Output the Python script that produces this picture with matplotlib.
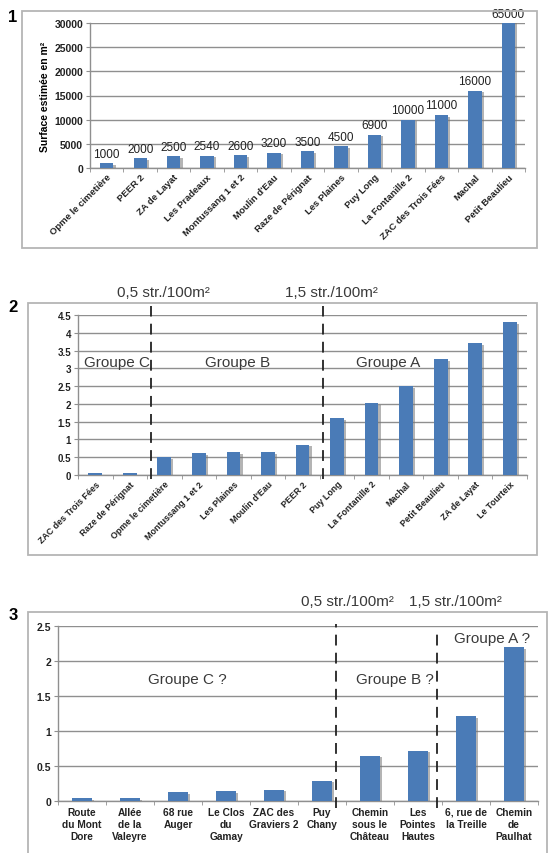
import numpy as np
import matplotlib.pyplot as plt
import matplotlib.patheffects as pe
from matplotlib.patches import Rectangle

plt.rcParams['font.family'] = ['Liberation Sans', 'DejaVu Sans']

# --- données graphique 1 : surface estimée
sites1 = ["Opme le cimetière", "PEER 2", "ZA de Layat", "Les Pradeaux", "Montussang 1 et 2",
          "Moulin d'Eau", "Raze de Pérignat", "Les Plaines", "Puy Long", "La Fontanille 2",
          "ZAC des Trois Fées", "Machal", "Petit Beaulieu"]
surface1 = [1000, 2000, 2500, 2540, 2600, 3200, 3500, 4500, 6900, 10000, 11000, 16000, 65000]

# --- données graphique 2 : densité
sites2 = ["ZAC des Trois Fées", "Raze de Pérignat", "Opme le cimetière", "Montussang 1 et 2",
          "Les Plaines", "Moulin d'Eau", "PEER 2", "Puy Long", "La Fontanille 2", "Machal",
          "Petit Beaulieu", "ZA de Layat", "Le Tourteix"]
densite2 = [0.05, 0.05, 0.5, 0.62, 0.65, 0.65, 0.85, 1.6, 2.02, 2.5, 3.25, 3.7, 4.3]

# --- données graphique 3
sites3 = ["Route\ndu Mont\nDore", "Allée\nde la\nValeyre", "68 rue\nAuger", "Le Clos\ndu\nGamay",
          "ZAC des\nGraviers 2", "Puy\nChany", "Chemin\nsous le\nChâteau", "Les\nPointes\nHautes",
          "6, rue de\nla Treille", "Chemin\nde\nPaulhat"]
densite3 = [0.04, 0.04, 0.13, 0.14, 0.16, 0.29, 0.65, 0.72, 1.21, 2.2]

W, H = 548, 854
bleu = '#4a7bb7'
gris = '#8f8f8f'
texte = '#3a3a3a'

fig = plt.figure(figsize=(W / 100, H / 100), dpi=100)


def px_axes(l, r, t, b):
    return fig.add_axes([l / W, 1 - b / H, (r - l) / W, (b - t) / H])


def cadre(l, r, t, b):
    fig.add_artist(Rectangle((l / W, 1 - b / H), (r - l) / W, (b - t) / H,
                             transform=fig.transFigure, fill=False,
                             edgecolor='#b5b5b5', linewidth=1.3))


def style(ax, n, ymax, ystep, yfmt, fs_y):
    ax.set_xlim(-0.5, n - 0.5)
    ax.set_ylim(0, ymax)
    ticks = np.arange(0, ymax + ystep / 2, ystep)
    ax.set_yticks(ticks)
    ax.set_yticklabels([yfmt(v) for v in ticks], fontsize=fs_y, fontweight='bold', color='#222')
    ax.yaxis.grid(True, color=gris, linewidth=1)
    ax.set_axisbelow(True)
    for s in ['top', 'right']:
        ax.spines[s].set_visible(False)
    for s in ['left', 'bottom']:
        ax.spines[s].set_color(gris)
        ax.spines[s].set_linewidth(1)
    ax.tick_params(axis='y', length=3, color=gris, pad=2)
    ax.tick_params(axis='x', which='major', length=0)
    ax.set_xticks(np.arange(-0.5, n, 1), minor=True)
    ax.tick_params(axis='x', which='minor', length=3, color=gris)


def barres(ax, vals, width):
    bars = ax.bar(np.arange(len(vals)), vals, width=width, color=bleu, zorder=3)
    for b in bars:
        b.set_path_effects([pe.SimplePatchShadow(offset=(1.6, -1.2), shadow_rgbFace='#777', alpha=0.55),
                            pe.Normal()])
    return bars


# ---------------- 1
cadre(22, 537, 12, 249)
ax1 = px_axes(90, 525, 24, 169)
style(ax1, len(sites1), 30000, 5000, lambda v: f"{int(v)}", 7.5)
barres(ax1, surface1, 0.4)
for i, v in enumerate(surface1):
    ax1.text(i, min(v, 30000) + 700, str(v), ha='center', va='bottom', fontsize=8.5, color='#222')
ax1.set_xticks(range(len(sites1)))
ax1.set_xticklabels(sites1, rotation=45, ha='right', rotation_mode='anchor',
                    fontsize=6.8, fontweight='bold', color='#222')
ax1.tick_params(axis='x', pad=3)
ax1.set_ylabel("Surface estimée en m²", fontsize=7.5, fontweight='bold', labelpad=3)
fig.text(13 / W, 1 - 18 / H, "1", fontsize=12, fontweight='bold', ha='center', va='center')

# ---------------- 2
cadre(28, 537, 304, 556)
ax2 = px_axes(78, 527, 316, 476)
style(ax2, len(sites2), 4.5, 0.5, lambda v: f"{v:g}", 7)
barres(ax2, densite2, 0.4)
ax2.set_xticks(range(len(sites2)))
ax2.set_xticklabels(sites2, rotation=45, ha='right', rotation_mode='anchor',
                    fontsize=6.4, fontweight='bold', color='#222')
ax2.tick_params(axis='x', pad=3)
for xs in [1.62, 6.6]:
    ax2.plot([xs, xs], [-0.12, 4.75], color='#222', linewidth=1.3, dashes=(6, 4), clip_on=False, zorder=4)
ax2.text(1.96, 5.15, "0,5 str./100m²", ha='center', va='center', fontsize=11, color=texte, clip_on=False)
ax2.text(6.84, 5.15, "1,5 str./100m²", ha='center', va='center', fontsize=11, color=texte, clip_on=False)
ax2.text(0.63, 3.18, "Groupe C", ha='center', va='center', fontsize=11, color=texte)
ax2.text(4.12, 3.18, "Groupe B", ha='center', va='center', fontsize=11, color=texte)
ax2.text(8.49, 3.18, "Groupe A", ha='center', va='center', fontsize=11, color=texte)
fig.text(13 / W, 1 - 308 / H, "2", fontsize=12, fontweight='bold', ha='center', va='center')

# ---------------- 3
cadre(28, 547, 613, 880)
ax3 = px_axes(58, 538, 627, 802)
style(ax3, len(sites3), 2.5, 0.5, lambda v: f"{v:g}", 7.5)
barres(ax3, densite3, 0.42)
ax3.set_xticks(range(len(sites3)))
ax3.set_xticklabels(sites3, fontsize=7.3, fontweight='bold', color='#222', linespacing=1.25)
ax3.tick_params(axis='x', pad=4)
ax3.plot([5.3, 5.3], [-0.1, 2.53], color='#222', linewidth=1.3, dashes=(6, 4), clip_on=False, zorder=4)
ax3.plot([7.4, 7.4], [-0.1, 2.39], color='#222', linewidth=1.3, dashes=(6, 4), clip_on=False, zorder=4)
ax3.text(5.54, 2.86, "0,5 str./100m²", ha='center', va='center', fontsize=11, color=texte, clip_on=False)
ax3.text(7.77, 2.86, "1,5 str./100m²", ha='center', va='center', fontsize=11, color=texte, clip_on=False)
ax3.text(2.2, 1.74, "Groupe C ?", ha='center', va='center', fontsize=11, color=texte)
ax3.text(6.52, 1.74, "Groupe B ?", ha='center', va='center', fontsize=11, color=texte)
ax3.text(8.54, 2.33, "Groupe A ?", ha='center', va='center', fontsize=11, color=texte)
fig.text(13 / W, 1 - 615 / H, "3", fontsize=12, fontweight='bold', ha='center', va='center')

fig.savefig("out.png", dpi=100)
